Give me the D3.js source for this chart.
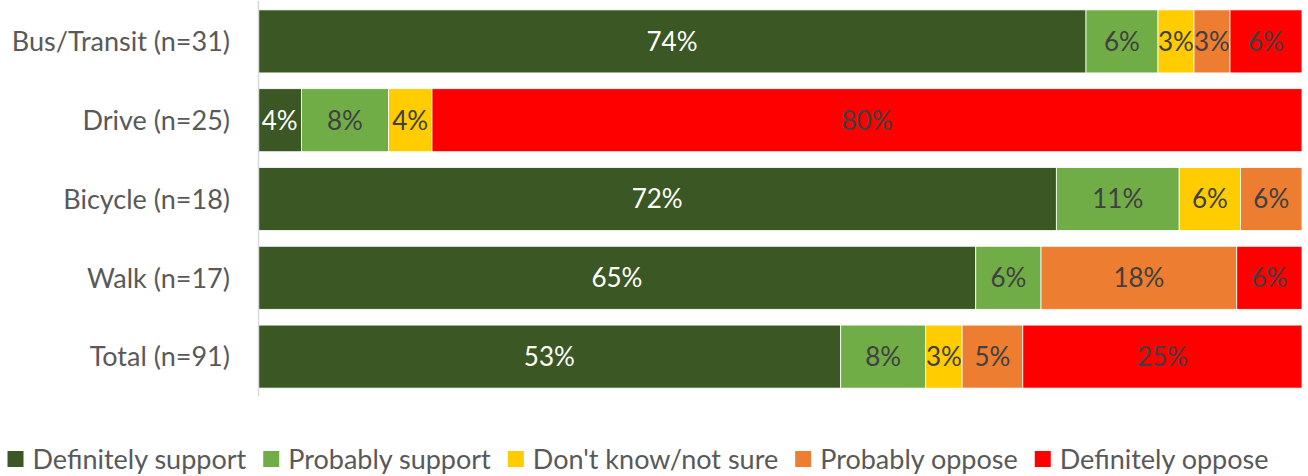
<!DOCTYPE html>
<html>
<head>
<meta charset="utf-8">
<script src="https://cdn.jsdelivr.net/npm/d3@7"></script>
<style>
  body { margin: 0; background: #fff; }
  text { font-family: Lato, "Open Sans", sans-serif; }
</style>
</head>
<body>
<div id="canvas"></div>
<script>
// data: response counts per mode, n = respondents (bars are share of those answering)
var modes = ["Bus/Transit", "Drive", "Bicycle", "Walk", "Total"];
var sizes = [31, 25, 18, 17, 91];
var answers = ["Definitely support", "Probably support", "Don't know/not sure", "Probably oppose", "Definitely oppose"];
var colours = ["#3a5724", "#70ad47", "#ffcc00", "#ed7d31", "#ff0000"];

var definitelySupport = [23, 1, 13, 11, 48];
var probablySupport   = [2, 2, 2, 1, 7];
var dontKnow          = [1, 1, 1, 0, 3];
var probablyOppose    = [1, 0, 1, 3, 5];
var definitelyOppose  = [2, 20, 0, 1, 23];

var w = 1308, h = 476;

var paper = d3.select("#canvas")
  .append("svg")
  .attr("width", w)
  .attr("height", h);

var rows = modes.map(function(m, i) {
  var counts = [definitelySupport[i], probablySupport[i], dontKnow[i], probablyOppose[i], definitelyOppose[i]];
  var total = d3.sum(counts);
  var acc = 0;
  return counts.map(function(c, j) {
    var seg = { mode: m, k: j, count: c, x0: acc / total, x1: (acc + c) / total, label: Math.round(c / sizes[i] * 100) + "%" };
    acc += c;
    return seg;
  });
});

var x = d3.scaleLinear().domain([0, 1]).range([258, 1302]);
var y = d3.scaleBand().domain(modes).range([2, 396]).paddingInner(0.2).paddingOuter(0.1);

//bars
var rowG = paper.selectAll("g.row")
  .data(rows)
  .enter()
  .append("g")
  .attr("class", "row");

rowG.selectAll("rect")
  .data(function(d) { return d.filter(function(s) { return s.count > 0; }); })
  .enter()
  .append("rect")
  .attr("x", function(d) { return x(d.x0); })
  .attr("y", function(d) { return y(d.mode); })
  .attr("width", function(d) { return x(d.x1) - x(d.x0); })
  .attr("height", y.bandwidth())
  .attr("fill", function(d) { return colours[d.k]; })
  .attr("stroke", "#fff")
  .attr("stroke-width", 0.8);

rowG.selectAll("text")
  .data(function(d) { return d.filter(function(s) { return s.count > 0; }); })
  .enter()
  .append("text")
  .attr("x", function(d) { return (x(d.x0) + x(d.x1)) / 2; })
  .attr("y", function(d) { return y(d.mode) + y.bandwidth() / 2; })
  .attr("dy", "0.36em")
  .attr("text-anchor", "middle")
  .style("font-size", "26px")
  .style("fill", function(d) { return d.k === 0 ? "#fff" : "#404040"; })
  .text(function(d) { return d.label; });

//category axis
paper.append("line")
  .attr("x1", 258.5).attr("x2", 258.5)
  .attr("y1", 1).attr("y2", 396)
  .style("stroke", "#d9d9d9")
  .style("stroke-width", "1.5px");

paper.selectAll("text.cat")
  .data(modes)
  .enter()
  .append("text")
  .attr("class", "cat")
  .attr("x", 230)
  .attr("y", function(d) { return y(d) + y.bandwidth() / 2; })
  .attr("dy", "0.36em")
  .attr("text-anchor", "end")
  .style("font-size", "27px")
  .style("fill", "#595959")
  .text(function(d, i) { return d + " (n=" + sizes[i] + ")"; });

//legend
var legend = paper.append("g").attr("class", "legend");
var lx = 0;
answers.forEach(function(a, i) {
  var g = legend.append("g").attr("transform", "translate(" + lx + ",0)");
  g.append("rect")
    .attr("x", 0).attr("y", 451)
    .attr("width", 16).attr("height", 16)
    .attr("fill", colours[i]);
  var t = g.append("text")
    .attr("x", 25).attr("y", 459)
    .attr("dy", "0.36em")
    .style("font-size", "27px")
    .style("fill", "#595959")
    .text(a);
  lx += 25 + t.node().getComputedTextLength() + 17;
});
var lw = lx - 17;
legend.attr("transform", "translate(" + ((w - lw) / 2 - 16) + ",0)");
</script>
</body>
</html>
